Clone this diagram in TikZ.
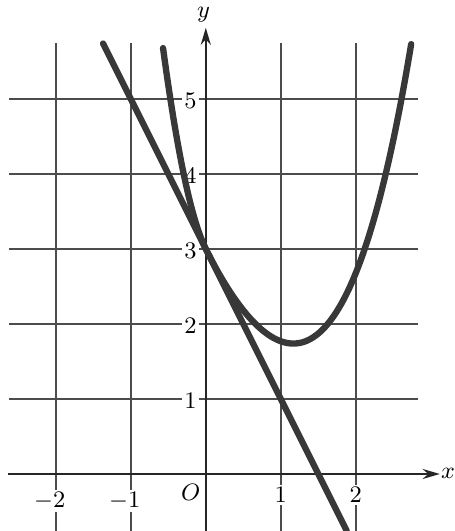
\documentclass[tikz,border=0pt]{standalone}
\usepackage{amsmath}
\usetikzlibrary{arrows.meta,calc}

\begin{document}
\begin{tikzpicture}[
        % styles for grid, axes and graphs
        gridline/.style={draw=black!70, line width=0.6pt},
        axis/.style={-{Stealth[length=6.5pt,width=3.8pt]}, line width=0.9pt, draw=black!85},
        graph/.style={line width=2.4pt, draw=black!78, line cap=round},
        ticklabel/.style={font=\small, fill=white, inner sep=1pt},
        axislabel/.style={font=\small, inner sep=1pt}
      ]
      \useasboundingbox (-2.744,-0.76) rectangle (3.32,6.32);

      % grid
      \foreach \y in {1,...,5} {
        \draw[gridline] (-2.62,\y) -- (2.83,\y);
      }
      \foreach \x in {-2,-1,1,2} {
        \draw[gridline] (\x,-0.76) -- (\x,5.75);
      }

      % axes
      \coordinate (xstart) at (-2.64,0);
      \coordinate (xend) at (3.12,0);
      \coordinate (ystart) at (0,-0.76);
      \coordinate (yend) at (0,5.95);
      \draw[axis] (xstart) -- (xend);
      \draw[axis] (ystart) -- (yend);
      \node[axislabel] (xlab) at (3.23,0.01) {$x$};
      \node[axislabel] (ylab) at (-0.03,6.13) {$y$};
      \node[axislabel] (origin) at (-0.2,-0.24) {$O$};

      % tick labels
      \foreach \y in {1,...,5} {
        \node[ticklabel, anchor=east] (ylab\y) at (-0.08,\y-0.02) {$\y$};
      }
      \foreach \x/\pos in {-2/-2.08,-1/-1.08} {
        \node[ticklabel] (xlab\x) at (\pos,-0.36) {$\x$};
      }
      \foreach \x in {1,2} {
        \node[ticklabel] (xlab\x) at (\x,-0.28) {$\x$};
      }

      % tangent line
      \coordinate (linetop) at (-1.37,5.74);
      \coordinate (linebottom) at (1.88,-0.76);
      \draw[graph] (linetop) -- (linebottom);

      % curve
      \draw[graph] plot[domain=-0.57:2.74, samples=150, smooth]
        (\x, {3-2*\x+0.72*(\x)*(\x)+0.05*(\x)*(\x)*(\x)*(\x)+4*min(\x,0)*min(\x,0)});

    \end{tikzpicture}
\end{document}
